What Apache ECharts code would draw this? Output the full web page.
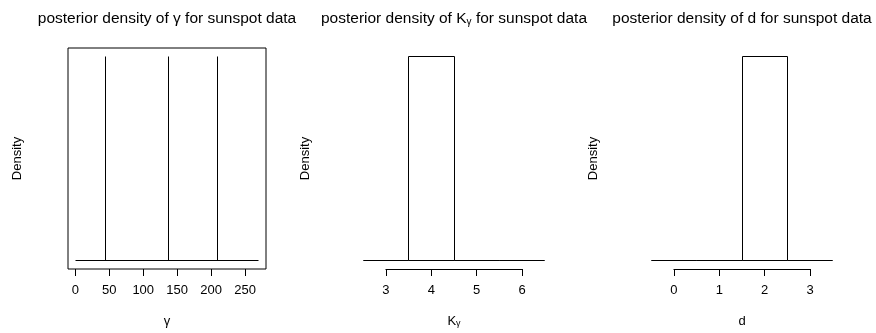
<!DOCTYPE html>
<html>
<head>
<meta charset="utf-8">
<script src="https://cdn.jsdelivr.net/npm/echarts@6/dist/echarts.min.js"></script>
<style>
html,body{margin:0;padding:0;background:#fff;}
#c{width:876px;height:333px;}
</style>
</head>
<body>
<div id="c"></div>
<script>
// ---- data ----
// Panel 1: posterior draws of gamma (spikes of equal density)
const gammaValues = [44, 137, 210];
const gammaDensity = [1, 1, 1];
const gammaRange = [0, 270];
const gammaTicks = [0, 50, 100, 150, 200, 250];
// Panel 2: histogram of K_gamma
const kBreaks = [2.5, 3.5, 4.5, 5.5, 6.5];
const kDensity = [0, 1, 0, 0];
const kTicks = [3, 4, 5, 6];
// Panel 3: histogram of d
const dBreaks = [-0.5, 0.5, 1.5, 2.5, 3.5];
const dDensity = [0, 0, 1, 0];
const dTicks = [0, 1, 2, 3];

const FONT = 'Liberation Sans, Arial, Helvetica, sans-serif';
const yMax = 1;
const ext = (a, b) => { const r = b - a; return [a - 0.04 * r, b + 0.04 * r]; };
const yExt = ext(0, yMax);
const gX = ext(gammaRange[0], gammaRange[1]);
const kX = ext(kBreaks[0], kBreaks[kBreaks.length - 1]);
const dX = ext(dBreaks[0], dBreaks[dBreaks.length - 1]);

const crisp = v => Math.round(v - 0.5) + 0.5;

function histData(breaks, dens) {
  return dens.map((d, i) => [breaks[i], breaks[i + 1], d]);
}
function histRender(params, api) {
  const p0 = api.coord([api.value(0), 0]);
  const p1 = api.coord([api.value(1), api.value(2)]);
  const x0 = crisp(p0[0]), x1 = crisp(p1[0]), y0 = crisp(p0[1]), y1 = crisp(p1[1]);
  return {
    type: 'rect',
    shape: { x: x0, y: y1, width: x1 - x0, height: y0 - y1 },
    style: { fill: 'none', stroke: '#000', lineWidth: 1 }
  };
}
function spikeRender(params, api) {
  const p0 = api.coord([api.value(0), 0]);
  const p1 = api.coord([api.value(0), api.value(1)]);
  const x = crisp(p0[0]);
  return {
    type: 'line',
    shape: { x1: x, y1: crisp(p0[1]), x2: x, y2: crisp(p1[1]) },
    style: { stroke: '#000', lineWidth: 1 }
  };
}
function segRender(params, api) {
  const p0 = api.coord([api.value(0), api.value(2)]);
  const p1 = api.coord([api.value(1), api.value(2)]);
  const y = crisp(p0[1]);
  return {
    type: 'line',
    shape: { x1: crisp(p0[0]), y1: y, x2: crisp(p1[0]), y2: y },
    style: { stroke: '#000', lineWidth: 1 }
  };
}

const grids = [
  { left: 68, top: 48, width: 198, height: 221, show: true, borderColor: '#000', borderWidth: 1, backgroundColor: 'transparent' },
  { left: 356, top: 48, width: 196, height: 221 },
  { left: 644, top: 48, width: 196, height: 221 }
];

const subRich = {
  sub: { fontSize: 9, fontFamily: FONT, color: '#000', verticalAlign: 'bottom', lineHeight: 12 }
};

function xAxis(i, ext, ticks, name, rich) {
  return {
    type: 'value', gridIndex: i, min: ext[0], max: ext[1], position: 'bottom',
    axisLine: { show: false, onZero: false },
    axisTick: { show: true, length: 7, inside: false, customValues: ticks, lineStyle: { color: '#000', width: 1 } },
    axisLabel: { show: true, customValues: ticks, margin: 15, color: '#000', fontSize: 13, fontFamily: FONT },
    splitLine: { show: false },
    name: name, nameLocation: 'middle', nameGap: 46,
    nameTextStyle: { color: '#000', fontSize: 13, fontFamily: FONT, rich: rich || {} }
  };
}
function yAxis(i) {
  return {
    type: 'value', gridIndex: i, min: yExt[0], max: yExt[1],
    axisLine: { show: false, onZero: false }, axisTick: { show: false }, axisLabel: { show: false }, splitLine: { show: false },
    name: 'Density', nameLocation: 'middle', nameGap: 44, nameRotate: 90,
    nameTextStyle: { color: '#000', fontSize: 13, fontFamily: FONT }
  };
}

const titleStyle = { color: '#000', fontSize: 15.5, fontWeight: 'normal', fontFamily: FONT };
const titleRich = {
  sub: { fontSize: 10, fontFamily: FONT, color: '#000', verticalAlign: 'bottom', lineHeight: 12 }
};

const option = {
  animation: false,
  backgroundColor: '#fff',
  title: [
    { text: 'posterior density of γ for sunspot data', left: 167, top: 11, textAlign: 'center', padding: 0, textStyle: titleStyle },
    { text: 'posterior density of K{sub|γ} for sunspot data', left: 454, top: 11, textAlign: 'center', padding: 0, textStyle: Object.assign({ rich: titleRich }, titleStyle) },
    { text: 'posterior density of d for sunspot data', left: 742, top: 11, textAlign: 'center', padding: 0, textStyle: titleStyle }
  ],
  grid: grids,
  xAxis: [
    xAxis(0, gX, gammaTicks, 'γ'),
    xAxis(1, kX, kTicks, 'K{sub|γ}', subRich),
    xAxis(2, dX, dTicks, 'd')
  ],
  yAxis: [yAxis(0), yAxis(1), yAxis(2)],
  series: [
    { type: 'custom', xAxisIndex: 0, yAxisIndex: 0, renderItem: segRender, clip: false,
      data: [[gammaRange[0], gammaRange[1], 0]], encode: { x: [0, 1], y: 2 } },
    { type: 'custom', xAxisIndex: 0, yAxisIndex: 0, renderItem: spikeRender, clip: false,
      data: gammaValues.map((v, i) => [v, gammaDensity[i]]), encode: { x: 0, y: 1 } },
    { type: 'custom', xAxisIndex: 1, yAxisIndex: 1, renderItem: histRender, clip: false,
      data: histData(kBreaks, kDensity), encode: { x: [0, 1], y: 2 } },
    { type: 'custom', xAxisIndex: 1, yAxisIndex: 1, renderItem: segRender, clip: false,
      data: [[kTicks[0], kTicks[kTicks.length - 1], yExt[0]]], encode: { x: [0, 1], y: 2 } },
    { type: 'custom', xAxisIndex: 2, yAxisIndex: 2, renderItem: histRender, clip: false,
      data: histData(dBreaks, dDensity), encode: { x: [0, 1], y: 2 } },
    { type: 'custom', xAxisIndex: 2, yAxisIndex: 2, renderItem: segRender, clip: false,
      data: [[dTicks[0], dTicks[dTicks.length - 1], yExt[0]]], encode: { x: [0, 1], y: 2 } }
  ]
};

const chart = echarts.init(document.getElementById('c'), null, { renderer: 'canvas' });
chart.setOption(option);
</script>
</body>
</html>
